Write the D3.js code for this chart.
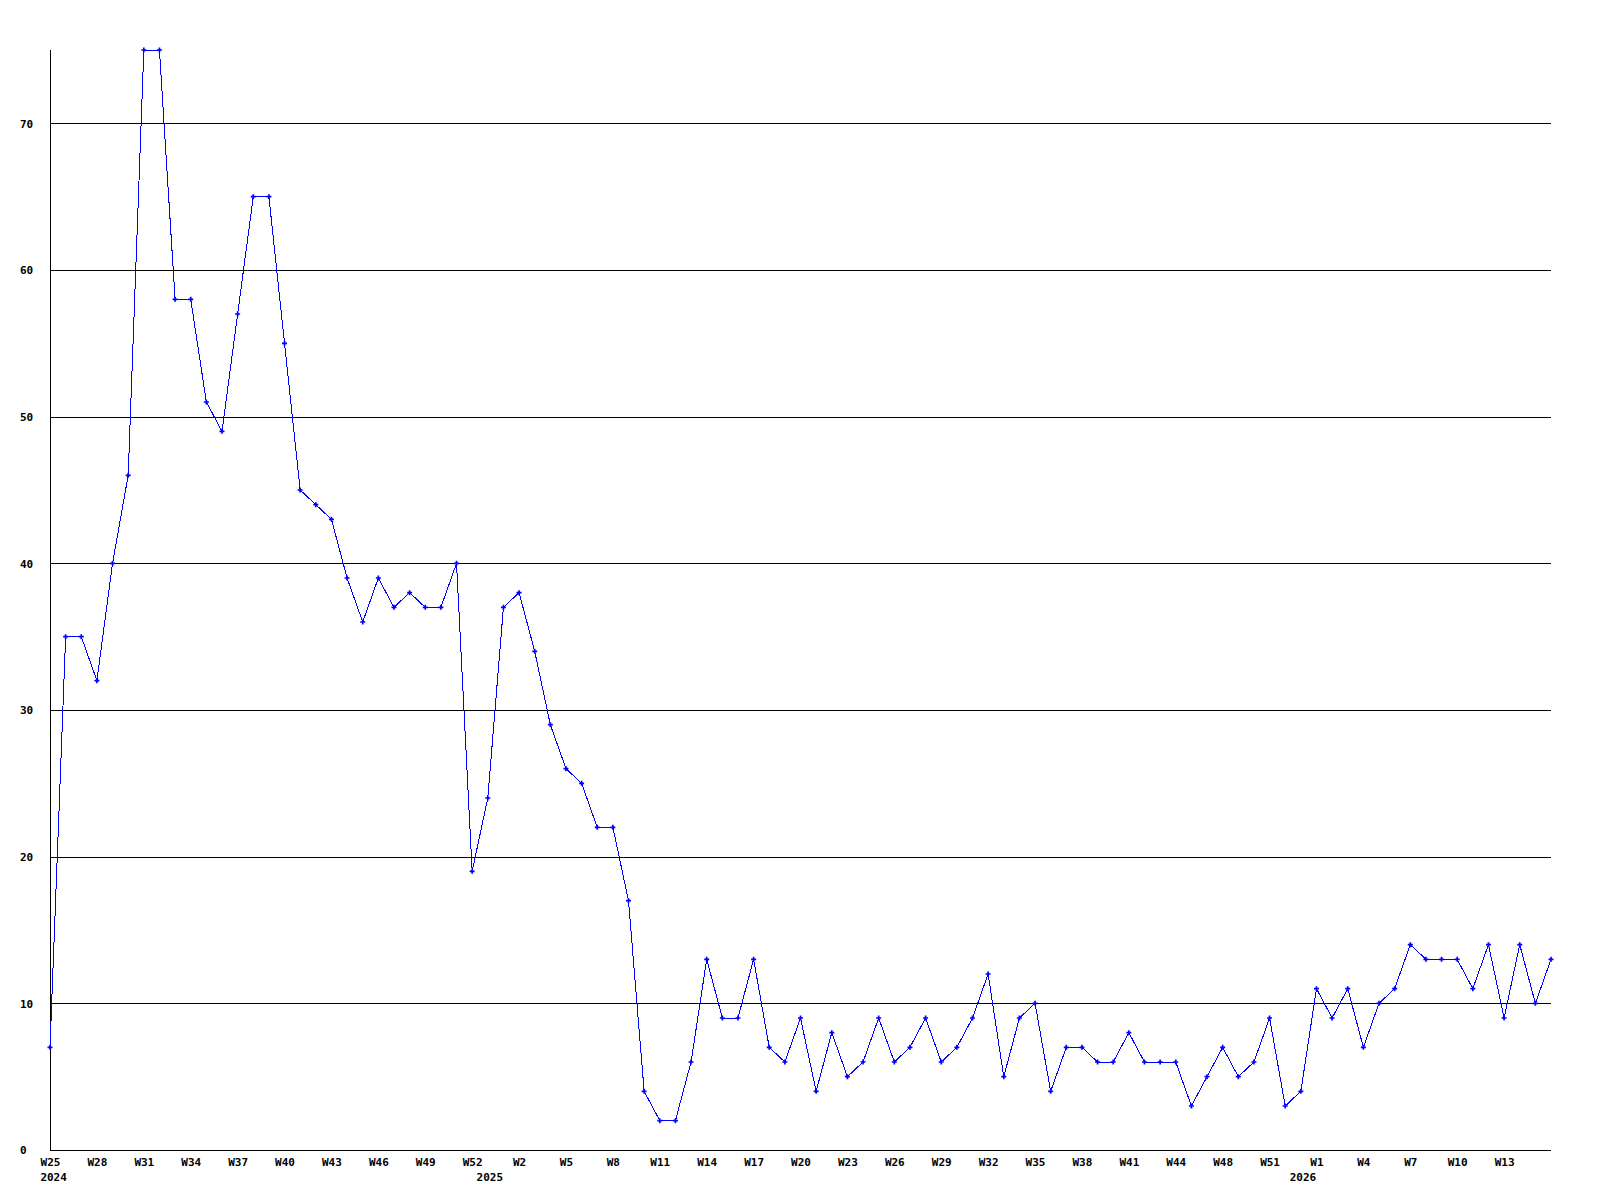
<!DOCTYPE html>
<html>
<head>
<meta charset="utf-8">
<script src="https://cdn.jsdelivr.net/npm/d3@7"></script>
<style>
  body { margin: 0; background: #fff; }
  svg { display: block; }
  text { font-family: "DejaVu Sans Mono", monospace; font-weight: bold; font-size: 11px; fill: #000; }
</style>
</head>
<body>
<div id="chart"></div>
<script>
const values = [
  7, 35, 35, 32, 40, 46, 75, 75, 58, 58,
  51, 49, 57, 65, 65, 55, 45, 44, 43, 39,
  36, 39, 37, 38, 37, 37, 40, 19, 24, 37,
  38, 34, 29, 26, 25, 22, 22, 17, 4, 2,
  2, 6, 13, 9, 9, 13, 7, 6, 9, 4,
  8, 5, 6, 9, 6, 7, 9, 6, 7, 9,
  12, 5, 9, 10, 4, 7, 7, 6, 6, 8,
  6, 6, 6, 3, 5, 7, 5, 6, 9, 3,
  4, 11, 9, 11, 7, 10, 11, 14, 13, 13,
  13, 11, 14, 9, 14, 10, 13
];

// one label every third week
const weekLabels = [
  'W25', 'W28', 'W31', 'W34', 'W37', 'W40', 'W43', 'W46', 'W49', 'W52', 'W2',
  'W5', 'W8', 'W11', 'W14', 'W17', 'W20', 'W23', 'W26', 'W29', 'W32', 'W35',
  'W38', 'W41', 'W44', 'W48', 'W51', 'W1', 'W4', 'W7', 'W10', 'W13'
];

const yearLabels = ['2024', '2025', '2026'];
const yearIndex = [0.2, 28.1, 80.1];

const yTicks = [0, 10, 20, 30, 40, 50, 60, 70];

const width = 1600;
const height = 1200;
const area = { left: 50, right: 1551, top: 50, bottom: 1150 };

const svg = d3.select('#chart')
  .append('svg')
  .attr('width', width)
  .attr('height', height);

const xScale = d3.scaleLinear()
  .domain([0, values.length - 1])
  .range([area.left, area.right]);

const yScale = d3.scaleLinear()
  .domain([0, 75])
  .range([area.bottom, area.top]);

// gridlines + y labels
const grid = svg.append('g')
  .attr('transform', `translate(${area.left}, 0)`)
  .call(d3.axisLeft(yScale).tickValues(yTicks).tickSize(-(area.right - area.left)).tickSizeOuter(0));
grid.select('.domain').remove();
grid.selectAll('line')
  .attr('stroke', '#000')
  .attr('shape-rendering', 'crispEdges');
grid.selectAll('text')
  .attr('x', 20 - area.left)
  .attr('dy', '0.35em')
  .attr('text-anchor', 'start');

// week labels
const xAxis = svg.append('g')
  .attr('transform', `translate(0, ${area.bottom})`)
  .call(d3.axisBottom(xScale)
    .tickValues(weekLabels.map((d, i) => i * 3))
    .tickFormat((d) => weekLabels[d / 3])
    .tickSize(0));
xAxis.select('.domain').remove();
xAxis.selectAll('text').attr('y', 12).attr('dy', '0.35em');

// year labels
const yearAxis = svg.append('g')
  .attr('transform', `translate(0, ${area.bottom})`)
  .call(d3.axisBottom(xScale)
    .tickValues(yearIndex)
    .tickFormat((d, i) => yearLabels[i])
    .tickSize(0));
yearAxis.select('.domain').remove();
yearAxis.selectAll('text').attr('y', 27).attr('dy', '0.35em');

// axes lines
svg.append('line')
  .attr('x1', area.left).attr('x2', area.right)
  .attr('y1', area.bottom + 0.5).attr('y2', area.bottom + 0.5)
  .attr('stroke', '#000');
svg.append('line')
  .attr('x1', area.left + 0.5).attr('x2', area.left + 0.5)
  .attr('y1', area.top).attr('y2', area.bottom)
  .attr('stroke', '#000');

// the series
const line = d3.line()
  .x((d, i) => xScale(i))
  .y((d) => yScale(d));

svg.append('path')
  .datum(values)
  .attr('d', line)
  .attr('fill', 'none')
  .attr('stroke', '#0000ff')
  .attr('stroke-width', 1)
  .attr('shape-rendering', 'crispEdges');

svg.append('g')
  .selectAll('path')
  .data(values)
  .join('path')
  .attr('transform', (d, i) => `translate(${xScale(i)}, ${yScale(d)})`)
  .attr('d', d3.symbol(d3.symbolCross, 14))
  .attr('fill', '#0000ff');
</script>
</body>
</html>
